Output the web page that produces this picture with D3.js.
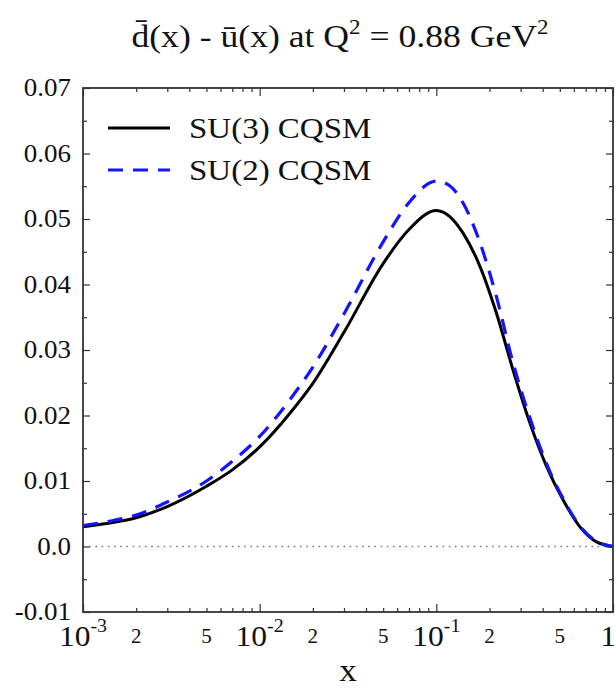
<!DOCTYPE html>
<html>
<head>
<meta charset="utf-8">
<script src="https://cdn.jsdelivr.net/npm/d3@7/dist/d3.min.js"></script>
<style>
  html, body { margin: 0; padding: 0; background: #fff; }
  svg { display: block; }
</style>
</head>
<body>
<svg id="chart" width="616" height="690" font-family="Liberation Serif, Liberation Sans, Arial, sans-serif"></svg>
<script>
// Momentum fraction grid
const xs = [0.001, 0.0015, 0.002, 0.003, 0.005, 0.007, 0.01, 0.015, 0.02, 0.03, 0.05, 0.07,
            0.1, 0.12, 0.142, 0.177, 0.219, 0.272, 0.339, 0.421, 0.522, 0.65, 0.806, 1.0];
// dbar - ubar, SU(3) chiral quark soliton model
const su3 = [0.0030, 0.0037, 0.0044, 0.0061, 0.0092, 0.0117, 0.0152, 0.0205, 0.0249, 0.0327, 0.0432, 0.0484,
             0.0513, 0.0503, 0.0478, 0.0427, 0.0356, 0.0269, 0.0188, 0.0122, 0.0071, 0.0030, 0.0007, 0.0];
// dbar - ubar, SU(2) chiral quark soliton model
const su2 = [0.0032, 0.0040, 0.0048, 0.0068, 0.0100, 0.0130, 0.0168, 0.0226, 0.0274, 0.0355, 0.0465, 0.0525,
             0.0558, 0.0550, 0.0524, 0.0463, 0.0381, 0.0280, 0.0196, 0.0126, 0.0073, 0.0031, 0.0008, 0.0];

const yTicks = [-0.01, 0.0, 0.01, 0.02, 0.03, 0.04, 0.05, 0.06, 0.07];
const yTickLabels = ["-0.01", "0.0", "0.01", "0.02", "0.03", "0.04", "0.05", "0.06", "0.07"];
const xMajor = [0.001, 0.01, 0.1, 1];
const xMajorLabels = [["10", "-3"], ["10", "-2"], ["10", "-1"], ["1", ""]];
const xMinorLabelled = [0.002, 0.005, 0.02, 0.05, 0.2, 0.5];
const xMinorLabels = ["2", "5", "2", "5", "2", "5"];

const svg = d3.select("#chart");
const pL = 83, pR = 613, pT = 88, pB = 612;

const x = d3.scaleLog().domain([1e-3, 1]).range([pL, pR]);
const y = d3.scaleLinear().domain([-0.01, 0.07]).range([pB, pT]);

// minor x positions (2..9 in each decade)
const xMinor = [];
for (const d of [0.001, 0.01, 0.1]) for (let k = 2; k <= 9; k++) xMinor.push(d * k);
const yMinor = d3.range(-0.005, 0.07, 0.01);

const frame = svg.append("g");
function axes(gen, tickVals, size, transform) {
  const g = frame.append("g").attr("transform", transform)
    .call(gen.tickValues(tickVals).tickSizeInner(size).tickSizeOuter(0).tickFormat(""));
  g.select(".domain").remove();
  g.selectAll(".tick line").attr("stroke", "#333").attr("stroke-width", 1.2);
}
axes(d3.axisBottom(x), xMajor, -8, `translate(0,${pB})`);
axes(d3.axisBottom(x), xMinor, -4, `translate(0,${pB})`);
axes(d3.axisTop(x), xMajor, -8, `translate(0,${pT})`);
axes(d3.axisTop(x), xMinor, -4, `translate(0,${pT})`);
axes(d3.axisLeft(y), yTicks, -7, `translate(${pL},0)`);
axes(d3.axisLeft(y), yMinor, -4, `translate(${pL},0)`);
axes(d3.axisRight(y), yTicks, -7, `translate(${pR},0)`);
axes(d3.axisRight(y), yMinor, -4, `translate(${pR},0)`);

// zero line
svg.append("line")
  .attr("x1", pL).attr("x2", pR).attr("y1", y(0)).attr("y2", y(0))
  .attr("stroke", "#777").attr("stroke-width", 1.6).attr("stroke-dasharray", "1.6,4.6");

// curves
const line = d3.line().x((d, i) => x(xs[i])).y(d => y(d)).curve(d3.curveMonotoneX);
svg.append("path").datum(su3).attr("d", line)
  .attr("fill", "none").attr("stroke", "#000").attr("stroke-width", 3);
svg.append("path").datum(su2).attr("d", line)
  .attr("fill", "none").attr("stroke", "#1414ff").attr("stroke-width", 3.2)
  .attr("stroke-dasharray", "15,10");

// frame
svg.append("rect").attr("x", pL).attr("y", pT)
  .attr("width", pR - pL).attr("height", pB - pT)
  .attr("fill", "none").attr("stroke", "#333").attr("stroke-width", 1.8);

// text helper: glyphs are drawn slightly wide
function label(parent, px, py, size, anchor, sx) {
  return parent.append("text")
    .attr("transform", `translate(${px},${py}) scale(${sx},1)`)
    .attr("text-anchor", anchor).attr("font-size", size).attr("fill", "#111");
}

// y tick labels
const yl = svg.append("g");
yTicks.forEach((d, i) => label(yl, 71, y(d) + 8, 25, "end", 1.08).text(yTickLabels[i]));

// x major labels with exponents
const xl = svg.append("g");
xMajor.forEach((d, i) => {
  const px = d === 1 ? 608 : x(d);
  const t = label(xl, px, 646, 30, "middle", 1.05);
  t.append("tspan").text(xMajorLabels[i][0]);
  if (xMajorLabels[i][1]) t.append("tspan").attr("dy", -14).attr("font-size", 19).text(xMajorLabels[i][1]);
});
xMinorLabelled.forEach((d, i) => label(xl, x(d), 643, 20, "middle", 1.05).text(xMinorLabels[i]));

// axis title
label(svg, 348, 681, 32, "middle", 1.1).text("x");

// chart title
const title = label(svg, 340, 47, 31, "middle", 1.15);
title.append("tspan").text("d\u0304(x) -  u\u0304(x) at Q");
title.append("tspan").attr("dy", -13).attr("font-size", 20).text("2");
title.append("tspan").attr("dy", 13).text(" = 0.88 GeV");
title.append("tspan").attr("dy", -13).attr("font-size", 20).text("2");

// legend
const legend = [{label: "SU(3) CQSM", color: "#000", dash: null, yy: 128},
                {label: "SU(2) CQSM", color: "#1414ff", dash: "15,10", yy: 170}];
const lg = svg.append("g");
legend.forEach(e => {
  lg.append("line").attr("x1", 108).attr("x2", 170).attr("y1", e.yy).attr("y2", e.yy)
    .attr("stroke", e.color).attr("stroke-width", 3.2)
    .attr("stroke-dasharray", e.dash);
  label(lg, 189, e.yy + 10, 30, "start", 1.1).text(e.label);
});
</script>
</body>
</html>
